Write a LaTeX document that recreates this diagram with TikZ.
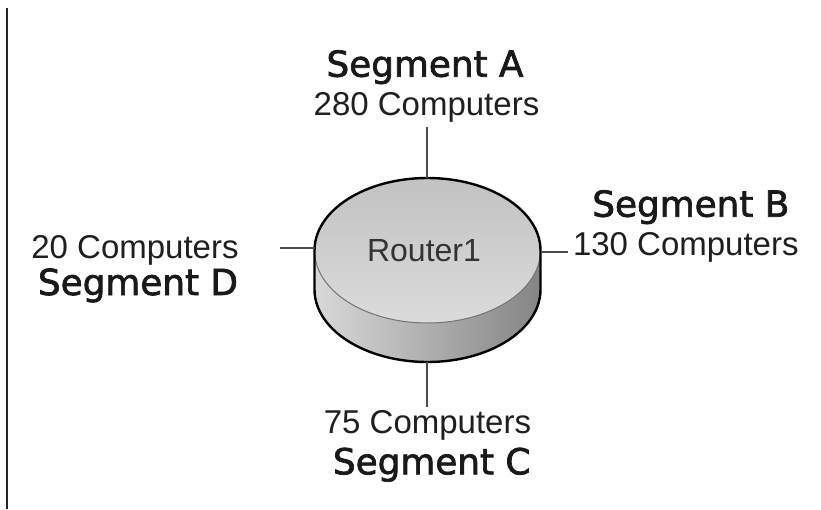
\documentclass[tikz,border=0pt]{standalone}
\usepackage{fontspec}
\setmainfont{Liberation Sans}
\newfontfamily\segfont{DejaVu Sans}[BoldFont={DejaVu Sans},BoldFeatures={FakeBold=2}]
\begin{document}
\begin{tikzpicture}[x=1pt,y=1pt,
  comp/.style={inner sep=0pt,anchor=base,font=\fontsize{33}{36}\selectfont,text=black!88},
  seg/.style={inner sep=0pt,anchor=base,font=\segfont\bfseries\fontsize{35.8}{40}\selectfont,text=black!90},
  link/.style={draw=black!70,line width=1.6pt}]
\useasboundingbox (0,0) rectangle (821,509);
\fill[white] (0,0) rectangle (821,509);
% left border line
\draw[black!85,line width=2pt] (7,501) -- (7,0);
% router cylinder
\shade[left color=black!15,middle color=black!23,right color=black!48]
  (314.5,258.5) -- (314.5,219.5) arc[start angle=180,end angle=360,x radius=113,y radius=72.5]
  -- (540.5,258.5) arc[start angle=0,end angle=-180,x radius=113,y radius=72.5] -- cycle;
\shade[top color=black!24,bottom color=black!14]
  (427.5,258.5) ellipse[x radius=113,y radius=72.5];
\draw[black!55,line width=1pt]
  (540.5,258.5) arc[start angle=0,end angle=-180,x radius=113,y radius=72.5];
\draw[black,line width=2.4pt]
  (314.5,258.5) arc[start angle=180,end angle=0,x radius=113,y radius=72.5]
  -- (540.5,219.5) arc[start angle=0,end angle=-180,x radius=113,y radius=72.5] -- cycle;
\node[inner sep=0pt,anchor=base,font=\fontsize{32}{36}\selectfont,text=black!80] (router) at (424,247.3) {Router1};
% connection points on the router
\coordinate (rtop) at (427,331);
\coordinate (rbot) at (427,147);
\coordinate (rleft) at (314.5,261);
\coordinate (rright) at (540.5,257);
% free ends
\coordinate (atop) at (427,382);
\coordinate (cbot) at (427,102);
\coordinate (dend) at (280,261);
\coordinate (bend) at (568,257);
\draw[link] (atop) -- (rtop);
\draw[link] (rbot) -- (cbot);
\draw[link] (dend) -- (rleft);
\draw[link] (rright) -- (bend);
% labels
\node[seg] (segA) at (425,432.3) {Segment A};
\node[comp] (compA) at (426.5,393) {280 Computers};
\node[seg] (segB) at (690.8,292.3) {Segment B};
\node[comp] (compB) at (685.8,253) {130 Computers};
\node[comp] (compD) at (135,250.7) {20 Computers};
\node[seg] (segD) at (138,214) {Segment D};
\node[comp] (compC) at (427.5,75.7) {75 Computers};
\node[seg] (segC) at (431.7,34.7) {Segment C};
\end{tikzpicture}
\end{document}
